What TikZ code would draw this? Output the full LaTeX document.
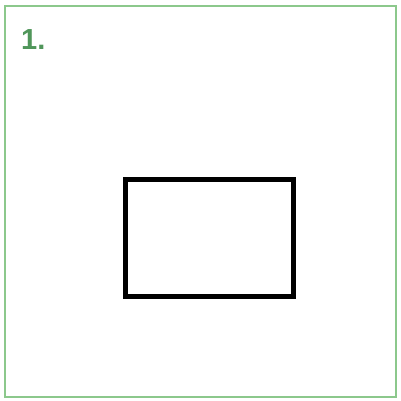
\documentclass[tikz,border=0pt]{standalone}
\usepackage{fontspec}
\setmainfont{Liberation Sans}
\definecolor{khung}{RGB}{140,200,140}
\definecolor{so}{RGB}{80,150,90}
\begin{document}
\begin{tikzpicture}[
	% kiểu cho khung viền, hình chữ nhật và số thứ tự
	vien/.style={draw=khung, line width=1.8pt},
	hcn/.style={draw=black, line width=5pt, line join=miter},
	so/.style={font=\bfseries\fontsize{29}{29}\selectfont, text=so, anchor=base west, inner sep=0pt}
	,x=1pt,y=-1pt]
	\useasboundingbox (0,0) rectangle (400,401);
	\fill[white] (0,0) rectangle (400,401);
	% khung viền ngoài
	\draw[vien] (5,6) rectangle (396,397);
	% số thứ tự
	\node[so] (stt) at (21,50) {1.};
	% hình chữ nhật ở giữa
	\draw[hcn] (125,179) rectangle (293,296.5);
\end{tikzpicture}
\end{document}
